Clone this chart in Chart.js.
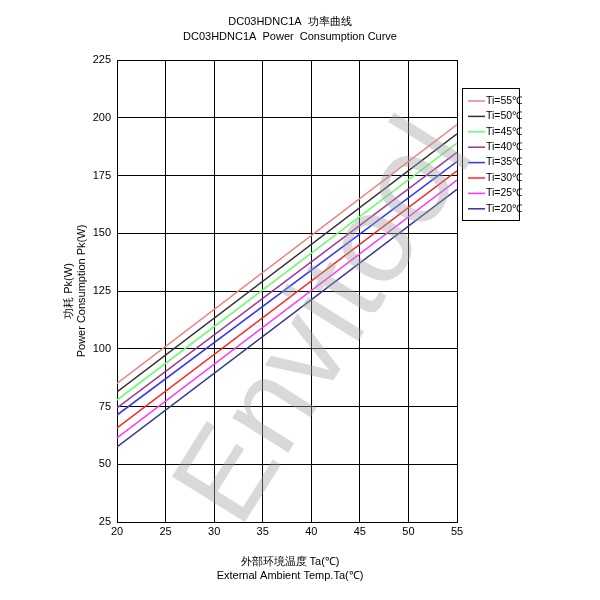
<!DOCTYPE html><html><head><script src="https://cdn.jsdelivr.net/npm/chart.js@4"></script>
<style>body{margin:0;background:#fff}</style></head><body>
<canvas id="c" width="600" height="600"></canvas>
<script>
const xs=[20,55];
const labels=['Ti=55℃','Ti=50℃','Ti=45℃','Ti=40℃','Ti=35℃','Ti=30℃','Ti=25℃','Ti=20℃'];
const colors=['#f08080','#333333','#66ff66','#993399','#3333ff','#ff2222','#ff33ff','#333399'];
const startVals=[85,81.3,77.8,74.4,71.3,65.7,61.4,57.5];
const endVals=[197,193,189,185,181,177,173,169];
const yTicks=[25,50,75,100,125,150,175,200,225];
const F='"Liberation Sans", Arial, sans-serif';
const deco={id:'deco',afterDraw(ch){const c=ch.ctx;c.save();
c.fillStyle='#000';c.textAlign='center';c.font='11px '+F;
c.fillText('DC03HDNC1A  功率曲线',290,25);c.fillText('DC03HDNC1A  Power  Consumption Curve',290,40);
c.fillText('外部环境温度 Ta(℃)',290,565);c.fillText('External Ambient Temp.Ta(℃)',290,579);
c.save();c.translate(72,291);c.rotate(-Math.PI/2);c.fillText('功耗 Pk(W)',0,0);c.fillText('Power Consumption Pk(W)',0,13);c.restore();
c.strokeStyle='#000';c.lineWidth=1;c.strokeRect(462.5,88.5,57,132);
c.textAlign='left';c.textBaseline='middle';c.font='10.5px '+F;
labels.forEach((l,i)=>{const y=101+i*15.4;c.strokeStyle=colors[i];c.lineWidth=1.5;c.beginPath();c.moveTo(468,y);c.lineTo(485,y);c.stroke();c.fillStyle='#000';c.fillText(l,486,y);});
c.save();c.translate(290,300);c.rotate(-58*Math.PI/180);c.font='125px '+F;c.fillStyle='rgba(160,160,160,0.4)';c.textAlign='center';c.fillText('Envitool',0,45);c.restore();
c.restore();}};
new Chart(document.getElementById('c'),{type:'line',plugins:[deco],
data:{datasets:labels.map((l,i)=>({label:l,data:[{x:xs[0],y:startVals[i]},{x:xs[1],y:endVals[i]}],borderColor:colors[i],borderWidth:1.5,pointRadius:0}))},
options:{responsive:false,animation:false,devicePixelRatio:1,
layout:{padding:{top:60,right:143,left:0,bottom:0}},
plugins:{legend:{display:false},tooltip:{enabled:false}},
scales:{x:{type:'linear',min:20,max:55,ticks:{stepSize:5,maxRotation:0,color:'#000',font:{size:11,family:F}},grid:{color:'#000',lineWidth:1,tickLength:0},border:{color:'#000'},afterFit(s){s.height=78;}},
y:{min:25,max:225,ticks:{stepSize:25,color:'#000',font:{size:11,family:F},padding:6},grid:{color:'#000',lineWidth:1,tickLength:0},border:{color:'#000'},afterFit(s){s.width=117;}}}}});
</script></body></html>
